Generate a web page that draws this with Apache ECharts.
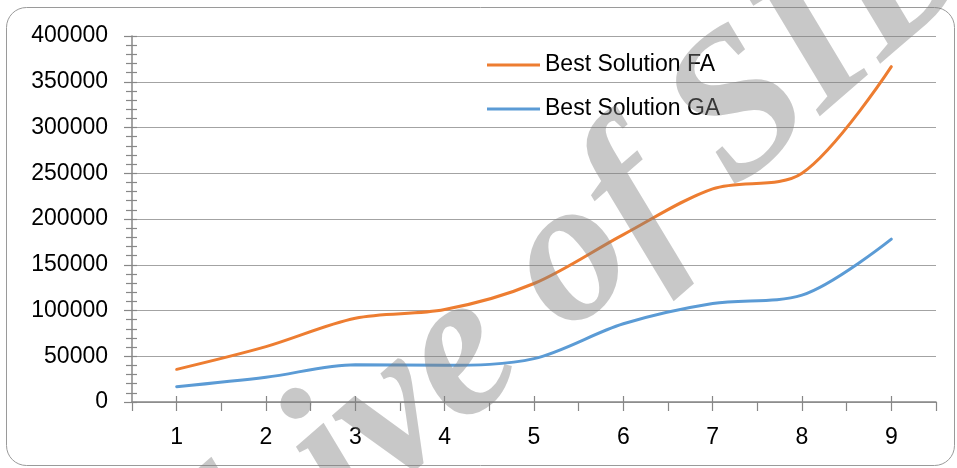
<!DOCTYPE html>
<html>
<head>
<meta charset="utf-8">
<script src="https://cdn.jsdelivr.net/npm/echarts@6/dist/echarts.min.js"></script>
<style>
  html, body { margin: 0; padding: 0; background: #fff; }
  #chart { width: 957px; height: 468px; }
</style>
</head>
<body>
<div id="chart"></div>
<script>
// Iteration index shown on the category axis
const categories = ['1', '2', '3', '4', '5', '6', '7', '8', '9'];
// Best solution found at each iteration
const bestFA = [35700, 60500, 91500, 101000, 129500, 183000, 233000, 250000, 366500];
const bestGA = [16700, 27000, 40800, 40100, 47400, 85500, 107700, 116800, 178000];
// Value axis range and step
const yMin = 0, yMax = 400000, yStep = 50000;

const FONT = '"Liberation Sans", Arial, sans-serif';
const AXIS_GRAY = '#878787';
const GRID_GRAY = '#a3a3a3';

const chart = echarts.init(document.getElementById('chart'), null, { renderer: 'canvas' });

// Invisible copy of the category axis, used only to draw extra tick marks
const baseX = {
  type: 'category',
  data: categories,
  position: 'bottom',
  boundaryGap: true,
  axisLine: { show: false },
  axisLabel: { show: false },
  splitLine: { show: false },
  axisTick: { show: false }
};

chart.setOption({
  animation: false,
  backgroundColor: '#ffffff',
  grid: { left: 132, right: 21, top: 36, bottom: 66, containLabel: false },
  legend: {
    orient: 'vertical',
    left: 482,
    top: 48,
    itemWidth: 53,
    itemHeight: 14,
    itemGap: 20,
    icon: 'path://M0,0 L53,0 L53,3 L0,3 Z',
    textStyle: { fontFamily: FONT, fontSize: 23, color: '#000', lineHeight: 24, padding: [0, 0, 0, 0] },
    data: ['Best Solution FA', 'Best Solution GA']
  },
  xAxis: [
    {
      type: 'category',
      data: categories,
      position: 'bottom',
      boundaryGap: true,
      axisLine: { show: true, lineStyle: { color: AXIS_GRAY, width: 1.5 } },
      axisTick: { show: true, inside: false, length: 9, lineStyle: { color: AXIS_GRAY, width: 1.2 } },
      axisLabel: { fontFamily: FONT, fontSize: 23, color: '#000', margin: 24 },
      splitLine: { show: false }
    },
    Object.assign({}, baseX, {
      axisTick: { show: true, alignWithLabel: true, inside: false, length: 9, lineStyle: { color: AXIS_GRAY, width: 1.2 } }
    }),
    Object.assign({}, baseX, {
      axisTick: { show: true, alignWithLabel: true, inside: true, length: 6, lineStyle: { color: AXIS_GRAY, width: 1.2 } }
    })
  ],
  yAxis: [
    {
      type: 'value',
      min: yMin,
      max: yMax,
      interval: yStep,
      axisLine: { show: true, lineStyle: { color: AXIS_GRAY, width: 1.5 } },
      axisTick: { show: true, inside: false, length: 8, lineStyle: { color: AXIS_GRAY, width: 1.2 } },
      minorTick: { show: true, splitNumber: 5, length: 6, lineStyle: { color: AXIS_GRAY, width: 1.2 } },
      axisLabel: { fontFamily: FONT, fontSize: 23, color: '#000', margin: 24, formatter: v => String(v) },
      splitLine: { show: true, lineStyle: { color: GRID_GRAY, width: 1 } }
    },
    {
      type: 'value',
      min: yMin,
      max: yMax,
      interval: yStep,
      position: 'left',
      axisLine: { show: false },
      axisLabel: { show: false },
      splitLine: { show: false },
      axisTick: { show: true, inside: true, length: 5, lineStyle: { color: AXIS_GRAY, width: 1.2 } },
      minorTick: { show: true, splitNumber: 5, length: 5, lineStyle: { color: AXIS_GRAY, width: 1.2 } }
    }
  ],
  series: [
    {
      name: 'Best Solution FA',
      type: 'line',
      data: bestFA,
      smooth: 0.32,
      symbol: 'none',
      showSymbol: false,
      lineStyle: { color: '#ED7D31', width: 3, cap: 'round' },
      itemStyle: { color: '#ED7D31' },
      z: 3
    },
    {
      name: 'Best Solution GA',
      type: 'line',
      data: bestGA,
      smooth: 0.32,
      symbol: 'none',
      showSymbol: false,
      lineStyle: { color: '#5B9BD5', width: 3, cap: 'round' },
      itemStyle: { color: '#5B9BD5' },
      z: 3
    }
  ],
  graphic: [
    {
      type: 'rect',
      z: 50,
      shape: { x: 6.5, y: 7.5, width: 948, height: 458, r: 20 },
      style: { fill: null, stroke: '#9a9a9a', lineWidth: 1 }
    },
    {
      type: 'text',
      z: 100,
      x: 477,
      y: 344,
      rotation: 41 * Math.PI / 180,
      style: {
        text: 'Archive of SID',
        fontFamily: '"Liberation Serif", "Times New Roman", serif',
        fontStyle: 'italic',
        fontWeight: 'bold',
        fontSize: 205,
        fill: 'rgba(128,128,128,0.43)',
        align: 'center',
        verticalAlign: 'middle'
      }
    }
  ]
});
</script>
</body>
</html>
